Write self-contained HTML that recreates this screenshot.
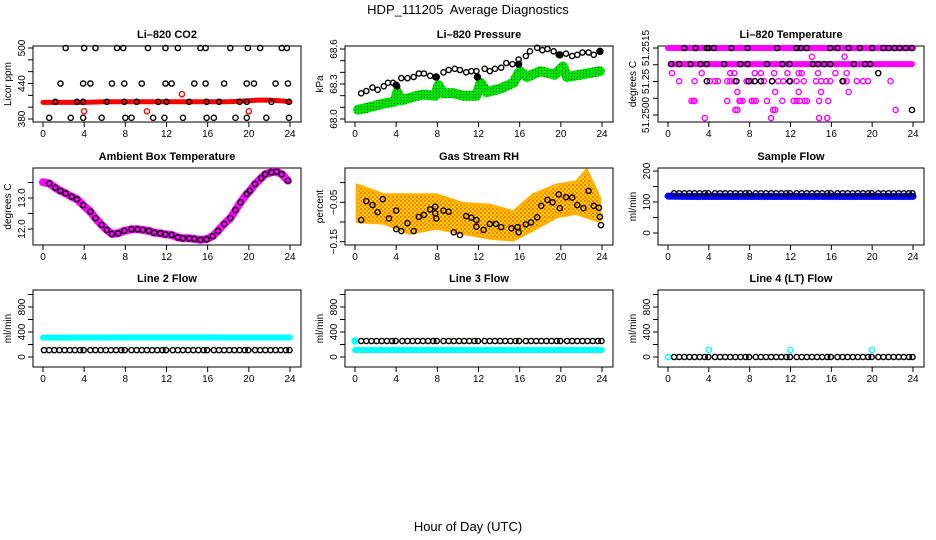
<!DOCTYPE html>
<html><head><meta charset="utf-8"><style>
html,body{margin:0;padding:0;background:#fff;}
svg{display:block;font-family:"Liberation Sans",Arial,sans-serif;}
</style></head><body>
<svg id="chart" width="936" height="540" viewBox="0 0 936 540" xmlns="http://www.w3.org/2000/svg">
<defs>
<pattern id="grn" width="3" height="3" patternUnits="userSpaceOnUse"><rect width="3" height="3" fill="#00e600"/><circle cx="1.5" cy="1.5" r="0.6" fill="#006000"/></pattern>
<pattern id="orn" width="4" height="4" patternUnits="userSpaceOnUse"><rect width="4" height="4" fill="#ffd400"/><circle cx="1" cy="1" r="1" fill="#ff5a00"/><circle cx="3" cy="3" r="1" fill="#ff7a00"/></pattern>
</defs>
<rect width="936" height="540" fill="#fff"/>
<text x="468" y="14" font-size="13" text-anchor="middle" style="white-space:pre">HDP_111205  Average Diagnostics</text>
<text x="468" y="531" font-size="13" text-anchor="middle">Hour of Day (UTC)</text>
<g id="plots"></g>
</svg>
<script>
// ---------- data ----------
const xTicks = [0,4,8,12,16,20,24];
// CO2
const co2BandH = [0,2,4,6,8,10,12,14,16,18,19,20,21,22,23,24];
const co2BandV = [408,408,408,409,409,409,409,409,409,409,410,411,412,412,411,409];
const co2RedH = [4,10.1,13.5,20];
const co2RedV = [393,393,422,393];
const co2BlkH = [2.2,4.0,5.1,7.2,7.8,10.2,11.9,13.1,15.3,15.8,18.2,19.9,21.1,23.2,23.7,
  1.7,3.9,4.6,6.7,7.9,9.6,11.9,12.5,14.7,15.8,17.6,19.8,20.5,22.6,23.8,
  1.2,3.3,3.9,6.2,7.9,9.1,11.2,12.0,14.2,15.9,17.1,19.1,19.8,22.2,23.9,
  0.6,2.7,3.9,5.7,8.0,8.6,10.7,11.8,13.6,15.9,16.6,18.7,19.8,21.7,23.9];
const co2BlkV = [500,500,500,500,500,500,500,500,500,500,500,500,500,500,500,
  440,440,440,440,440,440,440,440,440,440,440,440,440,440,440,
  409,409,409,409,409,409,409,409,409,409,409,409,409,409,409,
  382,382,382,382,382,382,382,382,382,382,382,382,382,382,382];
// Pressure
const presBlkH = [0.6,1.1,1.7,2.2,2.8,3.2,3.7,4.1,4.5,5.1,5.7,6.2,6.7,7.3,7.8,8.6,9.1,9.7,10.2,10.8,11.3,11.8,12.6,13.1,13.6,14.2,14.7,15.3,15.9,16.6,17.0,17.7,18.2,18.7,19.3,19.8,20.5,21.1,21.6,22.1,22.7,23.2,23.8];
const presBlkV = [68.22,68.24,68.27,68.25,68.28,68.31,68.31,68.28,68.35,68.35,68.36,68.39,68.39,68.37,68.36,68.40,68.42,68.43,68.42,68.40,68.41,68.41,68.43,68.41,68.43,68.44,68.48,68.47,68.51,68.54,68.58,68.61,68.59,68.60,68.58,68.55,68.56,68.54,68.55,68.57,68.57,68.55,68.58];
const presFilledH = [4.0,7.9,11.9,15.9,19.9,23.8];
const presFilledV = [68.29,68.36,68.36,68.47,68.55,68.58];
const presGrnH = [0.3,0.9,1.8,2.7,3.9,4.1,4.5,5.7,6.6,7.8,8.1,8.6,9.6,10.5,11.8,12.2,12.8,14.1,15.4,16.0,16.7,18.0,19.4,20.2,20.6,21.9,23.8];
const presGrnV = [68.08,68.09,68.11,68.13,68.15,68.23,68.16,68.19,68.21,68.20,68.29,68.22,68.22,68.20,68.20,68.31,68.23,68.26,68.31,68.41,68.36,68.41,68.38,68.45,68.36,68.38,68.41];
// Li-820 temperature
const tempBandStart = [0,0.3];
const tempBandEnd = [24,23.9];
const tempBandV = [51.2515,51.25102];
const tempMagH = [14.1,17.3,
  0.4,3.3,6.1,6.5,8.5,9.1,10.4,11.7,12.8,13.1,14.7,16.4,17.5,
  1.1,2.6,4.1,4.6,4.9,5.8,6.1,6.5,7.7,8.1,8.5,9.4,10.2,10.8,11.3,12.0,12.6,13.3,14.5,15.0,15.5,15.9,17.2,17.5,18.5,19.1,19.6,21.8,
  6.8,10.5,12.8,15.0,17.7,
  2.3,2.5,2.6,5.8,7.0,7.1,7.3,8.2,8.4,8.6,9.7,11.2,12.3,12.6,12.9,13.4,13.6,14.8,15.7,
  6.6,6.8,10.3,10.5,22.3,
  3.6,10.1,14.8,15.6];
const tempMagV = [51.25124,51.25124,
  51.25075,51.25075,51.25075,51.25075,51.25075,51.25075,51.25075,51.25075,51.25075,51.25075,51.25075,51.25075,51.25075,
  51.25051,51.25051,51.25051,51.25051,51.25051,51.25051,51.25051,51.25051,51.25051,51.25051,51.25051,51.25051,51.25051,51.25051,51.25051,51.25051,51.25051,51.25051,51.25051,51.25051,51.25051,51.25051,51.25051,51.25051,51.25051,51.25051,51.25051,51.25051,
  51.25019,51.25019,51.25019,51.25019,51.25019,
  51.24992,51.24992,51.24992,51.24992,51.24992,51.24992,51.24992,51.24992,51.24992,51.24992,51.24992,51.24992,51.24992,51.24992,51.24992,51.24992,51.24992,51.24992,51.24992,
  51.24965,51.24965,51.24965,51.24965,51.24965,
  51.24941,51.24941,51.24941,51.24941];
const tempBlkH = [1.6,2.7,3.8,4.0,4.5,6.2,7.8,10.7,12.6,13.0,13.6,15.9,16.6,17.7,18.8,20.0,21.1,21.6,22.2,22.7,23.3,23.9,
  0.3,1.1,2.2,3.2,3.8,5.5,7.1,7.8,9.7,11.2,11.9,14.2,14.7,15.3,15.9,18.2,19.3,19.8,
  20.6, 3.8,6.7,7.9,8.5,9.1,10.2,11.9,17.1, 23.9];
const tempBlkV = [51.2515,51.2515,51.2515,51.2515,51.2515,51.2515,51.2515,51.2515,51.2515,51.2515,51.2515,51.2515,51.2515,51.2515,51.2515,51.2515,51.2515,51.2515,51.2515,51.2515,51.2515,51.2515,
  51.25102,51.25102,51.25102,51.25102,51.25102,51.25102,51.25102,51.25102,51.25102,51.25102,51.25102,51.25102,51.25102,51.25102,51.25102,51.25102,51.25102,51.25102,
  51.25075, 51.25051,51.25051,51.25051,51.25051,51.25051,51.25051,51.25051,51.25051, 51.24965];
// Ambient box temperature
const ambH = [0.6,1.2,1.7,2.2,2.8,3.3,3.9,4.6,5.1,5.7,6.2,6.7,7.3,7.9,8.6,9.2,9.7,10.3,10.8,11.4,11.9,12.5,13.1,13.6,14.2,14.7,15.3,15.9,16.5,17.0,17.6,18.2,18.7,19.2,19.8,20.1,20.6,21.2,21.6,22.2,22.7,23.2,23.8];
const ambV = [13.47,13.33,13.23,13.15,13.04,12.96,12.77,12.56,12.35,12.13,11.97,11.84,11.86,11.94,11.99,11.99,11.97,11.94,11.88,11.86,11.83,11.81,11.73,11.70,11.70,11.68,11.65,11.67,11.77,11.94,12.16,12.35,12.61,12.86,13.13,13.23,13.45,13.64,13.77,13.83,13.85,13.77,13.56];
const ambMagStartV = 13.51;
// Gas stream RH
const rhEnvH = [0.2,2.8,5.3,7.9,10.5,13.1,15.4,17.3,19.6,21.5,22.5,23.8];
const rhEnvUpper = [-0.006,-0.031,-0.031,-0.031,-0.053,-0.057,-0.074,-0.031,-0.006,0.002,0.032,-0.040];
const rhEnvLower = [-0.099,-0.103,-0.129,-0.116,-0.129,-0.141,-0.146,-0.120,-0.087,-0.078,-0.087,-0.099];
const rhBlkH = [0.6,1.1,1.7,2.2,2.7,3.3,4.0,4.0,4.5,5.1,5.7,6.2,6.7,7.3,7.8,7.8,7.9,8.6,9.1,9.6,10.2,10.8,11.3,11.8,11.8,12.5,13.1,13.7,14.2,15.2,15.8,15.9,16.6,17.1,17.7,18.1,18.7,19.2,19.8,19.9,20.5,21.1,21.6,22.2,22.7,23.2,23.7,23.8,23.9];
const rhBlkV = [-0.095,-0.047,-0.057,-0.075,-0.042,-0.091,-0.071,-0.118,-0.123,-0.103,-0.123,-0.087,-0.082,-0.068,-0.061,-0.078,-0.091,-0.071,-0.074,-0.126,-0.133,-0.085,-0.089,-0.095,-0.112,-0.120,-0.105,-0.105,-0.113,-0.116,-0.113,-0.126,-0.106,-0.101,-0.088,-0.059,-0.044,-0.050,-0.030,-0.065,-0.037,-0.038,-0.057,-0.065,-0.021,-0.059,-0.064,-0.087,-0.108];
// Flows
const flowH = [0.6,1.1,1.6,2.1,2.6,3.1,3.6,3.95,4.6,5.1,5.6,6.1,6.6,7.1,7.6,7.95,8.6,9.1,9.6,10.1,10.6,11.1,11.6,11.95,12.6,13.1,13.6,14.1,14.6,15.1,15.6,15.95,16.6,17.1,17.6,18.1,18.6,19.1,19.6,19.95,20.6,21.1,21.6,22.1,22.6,23.1,23.6,23.95];
const bandH = [0,2,4,6,8,10,12,14,16,18,20,22,24];
const sampleBlkV = [128,128,128,128,128,128,128,128,128,128,128,128,128,128,128,128,128,128,128,128,128,128,128,128,128,128,128,128,128,128,128,128,128,128,128,128,128,128,128,128,128,128,128,128,128,128,128,128];
const sampleBlueV = [119,118,118,118,118,118,118,118,118,118,118,118,118];
const line2CyanV = [310,310,312,312,314,314,314,314,314,312,312,312,312];
const line2BlkV = [110,110,110,110,110,110,110,110,110,110,110,110,110,110,110,110,110,110,110,110,110,110,110,110,110,110,110,110,110,110,110,110,110,110,110,110,110,110,110,110,110,110,110,110,110,110,110,110];
const line3CyanV = [112,112,112,112,112,112,112,112,112,112,112,112,112];
const line3BlkV = [256,256,256,256,256,256,256,256,256,256,256,256,256,256,256,256,256,256,256,256,256,256,256,256,256,256,256,256,256,256,256,256,256,256,256,256,256,256,256,256,256,256,256,256,256,256,256,256];
const line4BlkV = [0,0,0,0,0,0,0,0,0,0,0,0,0,0,0,0,0,0,0,0,0,0,0,0,0,0,0,0,0,0,0,0,0,0,0,0,0,0,0,0,0,0,0,0,0,0,0,0];
const line4CyanH = [0,4,12,20];
const line4CyanV = [0,112,112,112];

// ---------- drawing ----------
const NS = 'http://www.w3.org/2000/svg';
const root = document.getElementById('plots');
const COLX0 = [43,355,668], COLX24 = [290,602,913];
const ROWTOP = [46,168,290], ROWBOT = [122,245,367];

function mk(tag, attrs, parent){
  const e = document.createElementNS(NS, tag);
  for (const k in attrs) e.setAttribute(k, attrs[k]);
  parent.appendChild(e);
  return e;
}
function makePanel(col,row,name,title,ylab,vA,pA,vB,pB,ticks,labels,labOff){
  const g = mk('g',{},root);
  
  
  const x0 = COLX0[col], x24 = COLX24[col];
  const sx = h => x0 + h*(x24-x0)/24;
  const sy = v => pA + (v-vA)*(pB-pA)/(vB-vA);
  const L = x0-10, R = x24+11, T = ROWTOP[row], B = ROWBOT[row];
  const box = mk('rect',{x:L,y:T,width:R-L,height:B-T,fill:'none',stroke:'#000','stroke-width':1},g);
  
  
  const t = mk('text',{x:(L+R)/2,y:T-8,'font-size':11,'font-weight':'bold','text-anchor':'middle'},g);
  t.textContent = title;
  
  
  xTicks.forEach(h=>{
    mk('line',{x1:sx(h),x2:sx(h),y1:B,y2:B+5,stroke:'#000'},g);
    const tl = mk('text',{x:sx(h),y:B+15,'font-size':10,'text-anchor':'middle'},g);
    tl.textContent = h;
    
    
  });
  ticks.forEach(v=>{ mk('line',{x1:L,x2:L-5,y1:sy(v),y2:sy(v),stroke:'#000'},g); });
  const lo = labOff || 8;
  labels.forEach(([v,txt])=>{
    const y = sy(v), x = L-lo;
    const tl = mk('text',{x:x,y:y,'font-size':10,'text-anchor':'middle',transform:`rotate(-90 ${x} ${y})`},g);
    tl.textContent = txt;
    
    
  });
  const yx = L-22, yy = (T+B)/2;
  const yl = mk('text',{x:yx,y:yy,'font-size':10,'text-anchor':'middle',transform:`rotate(-90 ${yx} ${yy})`},g);
  yl.textContent = ylab;
  
  
  const marks = mk('g',{},g);
  return {g:marks,sx,sy};
}
function pts(P,H,V,color,fill,nm,r){
  H.forEach((h,i)=>{
    const c = mk('circle',{cx:P.sx(h),cy:P.sy(V[i]),r:r||2.6,fill:fill||'none',stroke:color,'stroke-width':1.4},P.g);
    
    
  });
}
function band(P,H,V,color,w,nm){
  const d = H.map((h,i)=>(i?'L':'M')+P.sx(h).toFixed(1)+' '+P.sy(V[i]).toFixed(1)).join(' ');
  const p = mk('path',{d:d,fill:'none',stroke:color,'stroke-width':w,'stroke-linecap':'round','stroke-linejoin':'round'},P.g);
  
  
}

let P = makePanel(0,0,'panel-co2','Li\u2013820 CO2','Licor ppm',380,119,500,48,[380,400,420,440,460,480,500],[[380,'380'],[440,'440'],[500,'500']]);
band(P,co2BandH,co2BandV,'#ff0000',5,'co2-band');
pts(P,co2RedH,co2RedV,'#ff0000',null,'co2-red-point');
pts(P,co2BlkH,co2BlkV,'#000',null,'co2-black-point');

P = makePanel(1,0,'panel-pressure','Li\u2013820 Pressure','kPa',68.0,119,68.6,49,[68.0,68.1,68.2,68.3,68.4,68.5,68.6],[[68.0,'68.0'],[68.3,'68.3'],[68.6,'68.6']]);
band(P,presGrnH,presGrnV,'url(#grn)',10,'pressure-green-band');
pts(P,presBlkH,presBlkV,'#000',null,'pressure-point');
pts(P,presFilledH,presFilledV,'#000','#000','pressure-filled-point',3);

P = makePanel(2,0,'panel-li820-temp','Li\u2013820 Temperature','degrees C',51.2515,48,51.2495,115,[51.2515,51.2510,51.2505,51.2500,51.2495],[[51.2515,'51.2515'],[51.2505,'51.25'],[51.2495,'51.2500']],9);
tempBandV.forEach((v,i)=>band(P,[tempBandStart[i],tempBandEnd[i]],[v,v],'#ff00ff',6,'temp-magenta-band'));
pts(P,tempMagH,tempMagV,'#ff00ff',null,'temp-magenta-point');
pts(P,tempBlkH,tempBlkV,'#000',null,'temp-black-point');

P = makePanel(0,1,'panel-ambient','Ambient Box Temperature','degrees C',12.0,229,13.0,198,[12.0,12.5,13.0,13.5],[[12.0,'12.0'],[13.0,'13.0']]);
band(P,[0].concat(ambH),[ambMagStartV].concat(ambV),'#ff00ff',8,'ambient-magenta-band');
pts(P,ambH,ambV,'#000',null,'ambient-point');

P = makePanel(1,1,'panel-rh','Gas Stream RH','percent',-0.15,241.7,-0.05,202.3,[0.0,-0.05,-0.10,-0.15],[[-0.05,'\u22120.05'],[-0.15,'\u22120.15']]);
{
  const up = rhEnvH.map((h,i)=>P.sx(h).toFixed(1)+','+P.sy(rhEnvUpper[i]).toFixed(1));
  const lo = rhEnvH.slice().reverse().map((h,i)=>P.sx(h).toFixed(1)+','+P.sy(rhEnvLower[rhEnvH.length-1-i]).toFixed(1));
  const pg = mk('polygon',{points:up.concat(lo).join(' '),fill:'url(#orn)',stroke:'#ffb000','stroke-width':3,'stroke-linejoin':'round'},P.g);
  
  
}
pts(P,rhBlkH,rhBlkV,'#000',null,'rh-point');

P = makePanel(2,1,'panel-sample-flow','Sample Flow','ml/min',0,233,200,171,[0,50,100,150,200],[[0,'0'],[100,'100'],[200,'200']]);
band(P,bandH,sampleBlueV,'#0000ff',7,'sample-blue-band');
pts(P,flowH,sampleBlkV,'#000',null,'sample-point');

P = makePanel(0,2,'panel-line2','Line 2 Flow','ml/min',0,357,800,307,[0,200,400,600,800,1000],[[0,'0'],[400,'400'],[800,'800']]);
band(P,bandH,line2CyanV,'#00ffff',6,'line2-cyan-band');
pts(P,[0.1].concat(flowH),[110].concat(line2BlkV),'#000',null,'line2-point');

P = makePanel(1,2,'panel-line3','Line 3 Flow','ml/min',0,357,800,307,[0,200,400,600,800,1000],[[0,'0'],[400,'400'],[800,'800']]);
band(P,bandH,line3CyanV,'#00ffff',6,'line3-cyan-band');
pts(P,[0],[256],'#00ffff','#00ffff','line3-cyan-point',3);
pts(P,flowH,line3BlkV,'#000',null,'line3-point');

P = makePanel(2,2,'panel-line4','Line 4 (LT) Flow','ml/min',0,357,800,307,[0,200,400,600,800,1000],[[0,'0'],[400,'400'],[800,'800']]);
pts(P,flowH,line4BlkV,'#000',null,'line4-point');
pts(P,line4CyanH,line4CyanV,'#00ffff',null,'line4-cyan-point');
</script>
</body></html>
